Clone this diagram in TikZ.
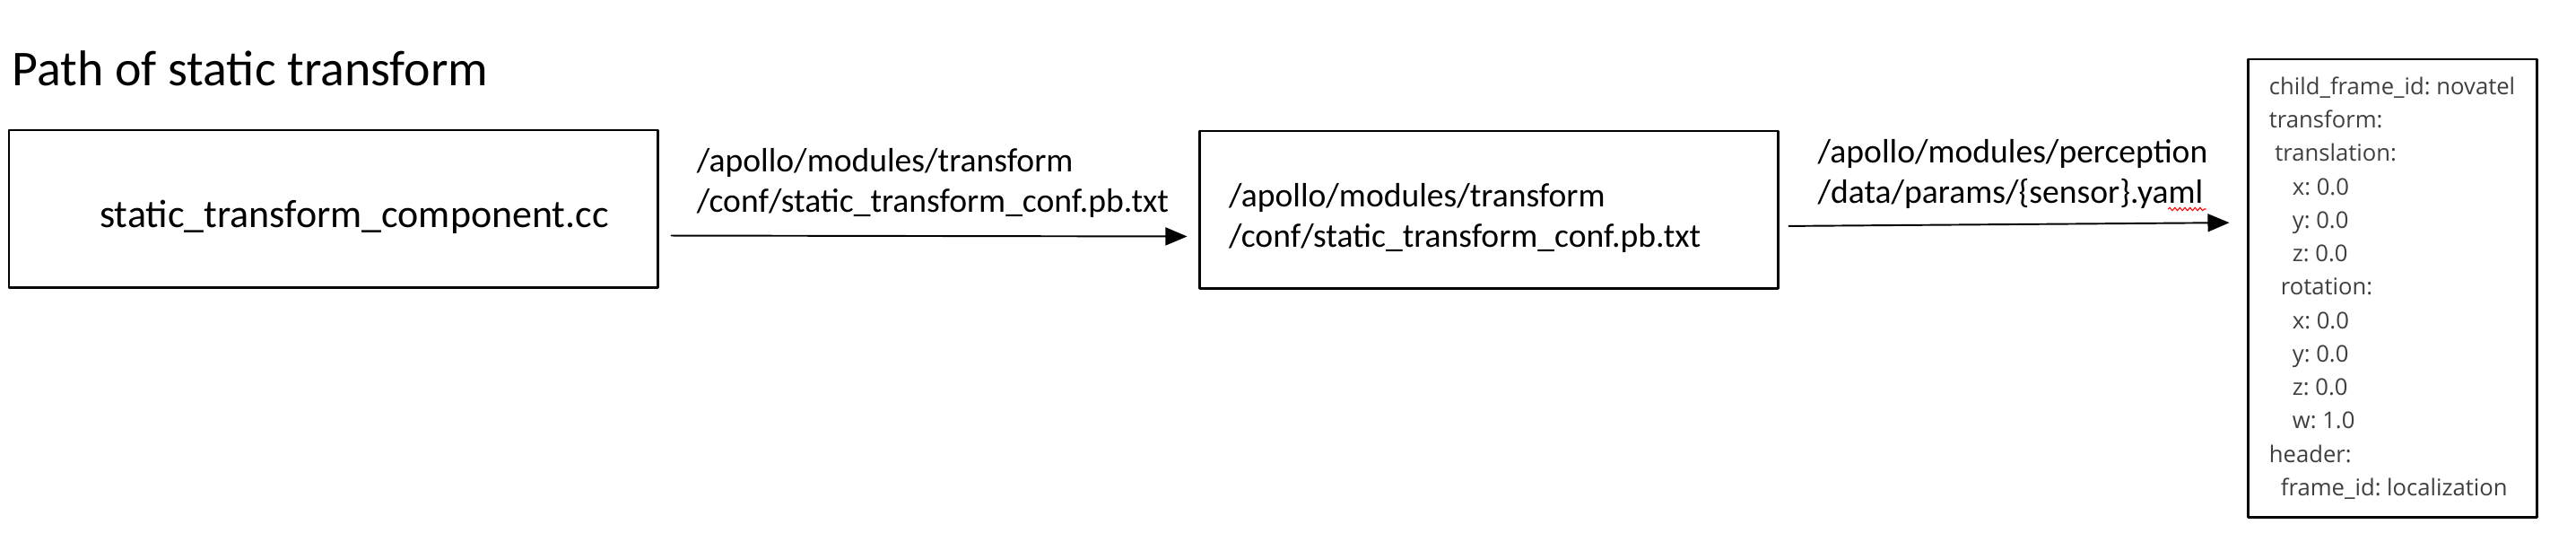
\documentclass[tikz,border=0pt]{standalone}
\usepackage{fontspec}
\setmainfont{Carlito}
\newfontfamily\yamlfont{Open Sans}
\usepackage{xcolor}
\usepackage{tikz}
\usetikzlibrary{arrows,positioning,decorations.pathmorphing}
\definecolor{yamlgray}{HTML}{3F3F3F}

\begin{document}
\begin{tikzpicture}[line cap=round,line join=round,>=triangle 45,x=1.0cm,y=1.0cm,
		box/.style={draw,line width=0.85pt,inner sep=0pt,minimum height=1.75cm},
		pathlabel/.style={align=left,inner sep=0pt,font=\fontsize{10.7}{12.8}\selectfont},
		conn/.style={->,line width=0.55pt}]
	\useasboundingbox (0,0) rectangle (28.72,-6.03);
	\node[anchor=base west,inner sep=0pt,font=\fontsize{15.9}{18}\selectfont] (title) at (0.13,-0.95) {Path of static transform};
	\node[box,minimum width=7.23cm,text height=0.5cm,font=\fontsize{12.5}{15}\selectfont] (component) at (3.715,-2.325) {\hspace*{0.47cm}static\_transform\_component.cc};
	\node[box,minimum width=6.45cm,text width=5.79cm,align=left,font=\fontsize{10.7}{12.8}\selectfont] (conf) at (16.595,-2.335) {\rule{0pt}{0.46cm}/apollo/modules/transform\\/conf/static\_transform\_conf.pb.txt};
	\node[draw,line width=0.85pt,inner sep=0pt,minimum width=3.22cm,minimum height=5.10cm,align=left,text=yamlgray,font=\yamlfont\fontsize{7.3}{10.6}\selectfont\frenchspacing] (tf) at (26.67,-3.21)
		{child\_frame\_id: novatel\\
		transform:\\
		\hspace*{0.065cm}translation:\\
		\hspace*{0.26cm}x: 0.0\\
		\hspace*{0.26cm}y: 0.0\\
		\hspace*{0.26cm}z: 0.0\\
		\hspace*{0.13cm}rotation:\\
		\hspace*{0.26cm}x: 0.0\\
		\hspace*{0.26cm}y: 0.0\\
		\hspace*{0.26cm}z: 0.0\\
		\hspace*{0.26cm}w: 1.0\\
		header:\\
		\hspace*{0.13cm}frame\_id: localization};
	% connectors
	\draw[conn,shorten <=0.14cm,shorten >=0.12cm] ([yshift=-0.3cm]component.east) -- node[pathlabel,above=0.19cm,xshift=0.05cm] (confpath) {/apollo/modules/transform\\/conf/static\_transform\_conf.pb.txt} ([yshift=-0.3cm]conf.west);
	\draw[conn,shorten <=0.11cm,shorten >=0.19cm] ([yshift=-0.185cm]conf.east) -- node[pathlabel,above=0.16cm] (yamlpath) {/apollo/modules/perception\\/data/params/\{sensor\}.yaml} ([yshift=0.73cm]tf.west);
	\draw[red,line width=0.3pt,decorate,decoration={snake,amplitude=0.5pt,segment length=1.6pt}] ([xshift=-0.45cm,yshift=0.01cm]yamlpath.south east) -- ++(0.42,0);
\end{tikzpicture}
\end{document}
